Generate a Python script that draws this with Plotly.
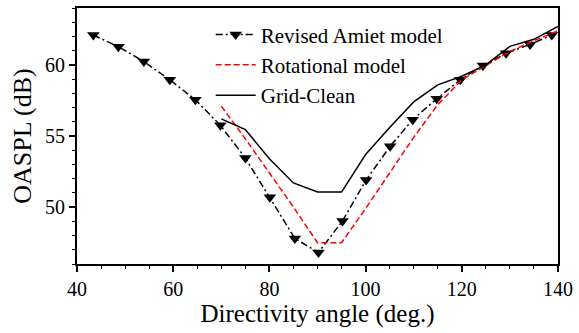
import plotly.graph_objects as go

# Revised Amiet model (black dash-dot with down triangles)
amiet_x = [43.4, 48.6, 53.9, 59.3, 64.6, 69.8, 75.0, 80.1, 85.3, 90.2,
           95.2, 100.1, 105.1, 109.8, 114.8, 119.7, 124.4, 129.2, 134.2, 138.7]
amiet_y = [62.1, 61.28, 60.23, 58.95, 57.55, 55.75, 53.46, 50.7, 47.79, 46.81,
           49.03, 51.9, 54.28, 56.15, 57.62, 58.95, 59.95, 60.81, 61.44, 62.1]

# Rotational model (red dashed)
rot_x = [70, 75, 80, 85, 90, 95, 100, 105, 110, 115, 120, 125, 130, 135, 140]
rot_y = [57.1, 54.8, 52.4, 50.0, 47.5, 47.5, 49.9, 52.4, 54.9, 57.2, 58.95,
         59.95, 60.95, 61.7, 62.4]

# Grid-Clean (black solid)
grid_x = [70, 75, 80, 85, 90, 95, 100, 105, 110, 115, 120, 125, 130, 135, 140]
grid_y = [56.2, 55.45, 53.4, 51.7, 51.06, 51.06, 53.7, 55.6, 57.4, 58.6, 59.2,
          60.0, 61.3, 61.8, 62.7]

x_ticks = [40, 60, 80, 100, 120, 140]
y_ticks = [50, 55, 60]

font_family = "Liberation Serif, Times New Roman, serif"

fig = go.Figure()
fig.add_trace(go.Scatter(
    x=amiet_x, y=amiet_y, mode="lines+markers", name="Revised Amiet model",
    line=dict(color="black", width=1.5, dash="7px,3px,2px,3px"),
    marker=dict(symbol="triangle-down", size=11, color="black"),
))
fig.add_trace(go.Scatter(
    x=rot_x, y=rot_y, mode="lines", name="Rotational model",
    line=dict(color="#ff0000", width=1.5, dash="6px,3px"),
))
fig.add_trace(go.Scatter(
    x=grid_x, y=grid_y, mode="lines", name="Grid-Clean",
    line=dict(color="black", width=1.5),
))

axis_common = dict(
    showgrid=False, zeroline=False, showline=True, linecolor="black",
    linewidth=2, mirror=True, ticks="outside", ticklen=6, tickwidth=1.5,
    tickcolor="black", tickfont=dict(family=font_family, size=20, color="black"),
)

fig.update_xaxes(
    range=[40, 140], tickvals=x_ticks, ticktext=[str(v) for v in x_ticks],
    minor=dict(dtick=5, ticks="outside", ticklen=3, tickwidth=1.2, tickcolor="black"),
    title=dict(text="Directivity angle (deg.)",
               font=dict(family=font_family, size=25, color="black"), standoff=4),
    **axis_common,
)
fig.update_yaxes(
    range=[46, 64], tickvals=y_ticks, ticktext=[str(v) for v in y_ticks],
    minor=dict(dtick=1, ticks="outside", ticklen=3, tickwidth=1.2, tickcolor="black"),
    title=dict(text="OASPL (dB)",
               font=dict(family=font_family, size=26, color="black"), standoff=6),
    **axis_common,
)

fig.update_layout(
    width=579, height=333,
    margin=dict(l=77, r=20, t=6, b=69),
    paper_bgcolor="white", plot_bgcolor="white",
    showlegend=True,
    legend=dict(
        x=0.278, y=0.975, xanchor="left", yanchor="top",
        bgcolor="rgba(0,0,0,0)", borderwidth=0,
        font=dict(family=font_family, size=21, color="black"),
        tracegroupgap=0, itemwidth=40,
    ),
)

fig.write_html("out.html")
